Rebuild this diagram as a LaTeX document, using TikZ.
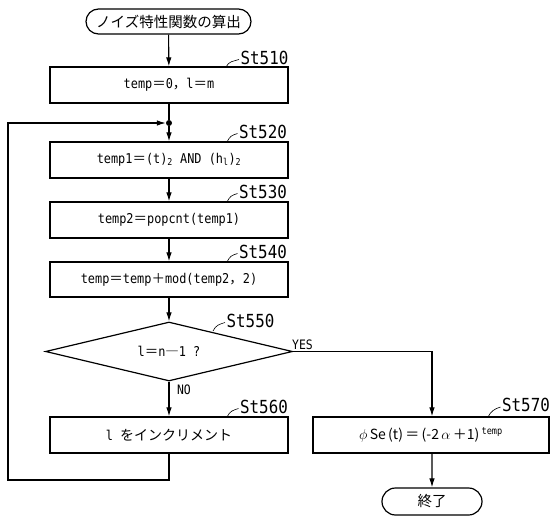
\documentclass[tikz,border=0pt]{standalone}
\usepackage{fontspec}
\newfontfamily\cjk{Noto Sans CJK JP}
\newfontfamily\mono[FakeStretch=0.88]{DejaVu Sans Mono}
\usetikzlibrary{arrows.meta,shapes.geometric,shapes.misc}
\newcommand{\feq}{{\cjk ＝}}
\newcommand{\fcomma}{{\cjk ，}}
\begin{document}
\begin{tikzpicture}[x=1pt,y=-1pt,
  ln/.style={line width=1.1pt},
  arr/.style={line width=1.1pt,-{Latex[length=9pt,width=5.5pt]}},
  procbox/.style={draw,line width=1.2pt,minimum width=238pt,minimum height=36pt,inner sep=0pt,
     font=\mono\fontsize{13.5}{15}\selectfont},
  termbox/.style={draw,line width=1.2pt,rounded rectangle,inner sep=0pt,
     font=\cjk\fontsize{14.5}{16}\selectfont},
  steplbl/.style={inner sep=0pt,font=\mono\fontsize{18}{20}\selectfont},
  yn/.style={inner sep=0pt,font=\mono\fontsize{13}{14}\selectfont},
  leader/.style={line width=0.6pt}]
\useasboundingbox (0,0) rectangle (550,517);

% nodes
\node[termbox,minimum width=165pt,minimum height=25pt] (start) at (168.5,21.5) {ノイズ特性関数の算出};
\node[procbox] (s510) at (169,85) {temp\feq 0\fcomma l\feq m};
\node[circle,fill,inner sep=0pt,minimum size=6pt] (dot) at (169,123) {};
\node[procbox] (s520) at (169,160) {temp1\feq(t)\textsubscript{2} AND (h\textsubscript{l})\textsubscript{2}};
\node[procbox] (s530) at (169,220) {temp2\feq popcnt(temp1)};
\node[procbox,minimum height=35pt] (s540) at (169,279.5) {temp\feq temp{\cjk ＋}mod(temp2\fcomma 2)};
\node[draw,line width=1.2pt,diamond,aspect=4.19,minimum width=247pt,minimum height=59pt,inner sep=0pt,
      font=\mono\fontsize{13.5}{15}\selectfont] (s550) at (169,351.5) {l\feq n{\cjk ―}1 ?};
\node[procbox] (s560) at (169,435) {l {\cjk\fontsize{14}{16}\selectfont をインクリメント}};
\node[procbox,minimum width=236pt,font=\cjk\fontsize{14}{16}\selectfont] (s570) at (431,435)
   {$\phi$\,Se\,(t)\,＝\,(-2\,$\alpha$\,＋1)\,\textsuperscript{\mono temp}};
\node[termbox,minimum width=100pt,minimum height=27pt] (end) at (432,501.5) {終了};

% step labels
\node[steplbl] (l510) at (264.5,57.5) {St510};
\node[steplbl] (l520) at (263,131.5) {St520};
\node[steplbl] (l530) at (263,191.5) {St530};
\node[steplbl] (l540) at (263,251.5) {St540};
\node[steplbl] (l550) at (250.5,320.5) {St550};
\node[steplbl] (l560) at (264,406.5) {St560};
\node[steplbl] (l570) at (526,405) {St570};

\coordinate (a510) at (226,67);
\coordinate (a520) at (227,142);
\coordinate (a530) at (227,202);
\coordinate (a540) at (227,262);
\coordinate (a550) at (213,331);
\coordinate (a560) at (227,417);
\coordinate (a570) at (488,417);
\foreach \n in {510,520,530,540,550,560,570}{
  \draw[leader] (a\n) .. controls +(3,-6) and +(-6,2) .. ([xshift=-1.5pt,yshift=-2pt]l\n.west);
}

% labels
\node[yn] (yes) at (302.5,344.5) {YES};
\node[yn] (no) at (184,390) {NO};

% connectors
\draw[arr] (start) -- (s510);
\draw[ln] (s510) -- (dot);
\draw[arr] (dot) -- (s520);
\draw[arr] (s520) -- (s530);
\draw[arr] (s530) -- (s540);
\draw[arr] (s540) -- (s550.north);
\draw[arr] (s550.south) -- (s560);
\draw[arr] (s550.east) -| (s570.north -| end.north);
\draw[arr] (s570.south -| end.north) -- (end);

\coordinate (loopA) at (169,480);
\coordinate (loopB) at (8,480);
\coordinate (loopC) at (8,123);
\draw[arr] (s560.south) -- (loopA) -- (loopB) -- (loopC) -- (dot);
\end{tikzpicture}
\end{document}
